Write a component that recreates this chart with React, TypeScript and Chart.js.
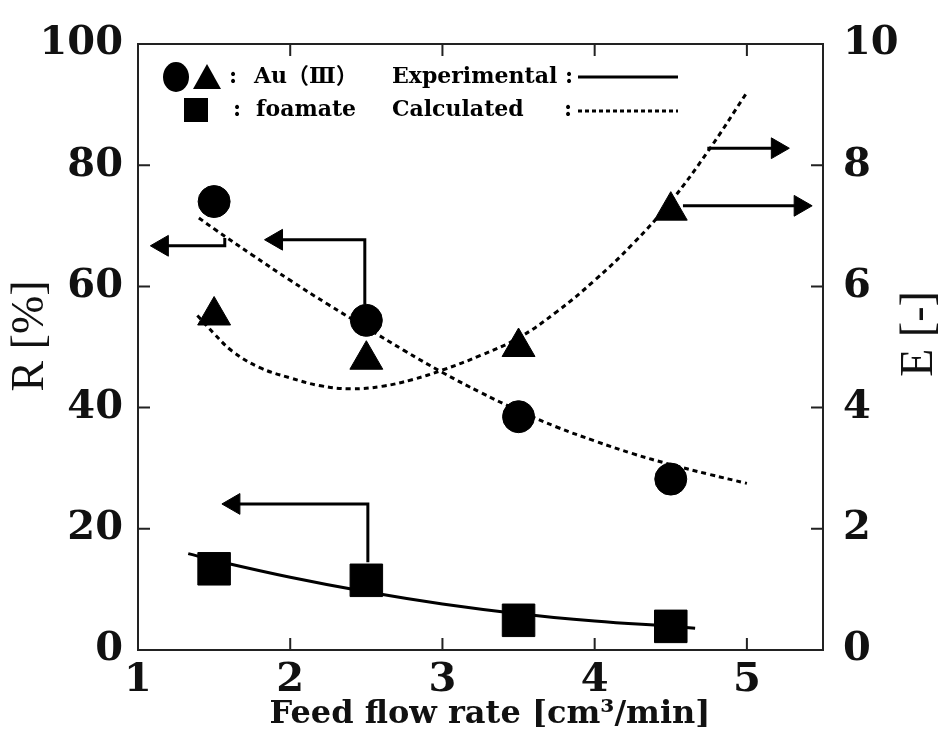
import React, { useEffect, useRef } from "react";
import { Chart, registerables } from "chart.js";

Chart.register(...registerables);

const FONT_FAMILY = '"DejaVu Serif", "Liberation Serif", "Noto Sans CJK JP", serif';
const TITLE_FAMILY = '"Liberation Serif", "DejaVu Serif", serif';

// ---- axes ----
const xTickValues = [1, 2, 3, 4, 5];
const rTickValues = [0, 20, 40, 60, 80, 100];
const eTickValues = [0, 2, 4, 6, 8, 10];

// ---- measured points ----
const feedFlowRates = [1.5, 2.5, 3.5, 4.5];
const auRecovery = [74, 54.4, 38.5, 28.2]; // ● R [%]
const auEnrichment = [5.52, 4.79, 5.0, 7.25]; // ▲ E [-]
const foamateRecovery = [13.4, 11.5, 4.9, 3.9]; // ■ R [%]

// ---- calculated curves (dotted) ----
const calcRecoveryX = [1.4, 1.5, 1.75, 2, 2.25, 2.5, 2.75, 3, 3.25, 3.5, 3.75, 4, 4.25, 4.5, 4.75, 5];
const calcRecovery = [71.3, 69.5, 65.2, 61, 57, 53.2, 49.4, 45.8, 42.5, 39.5, 36.8, 34.5, 32.4, 30.6, 29, 27.5];
const calcEnrichmentX = [1.39, 1.5, 1.62, 1.8, 2, 2.2, 2.4, 2.6, 2.8, 3, 3.25, 3.5, 3.75, 4, 4.25, 4.5, 4.75, 5];
const calcEnrichment = [5.52, 5.22, 4.93, 4.66, 4.49, 4.36, 4.31, 4.35, 4.46, 4.62, 4.86, 5.15, 5.58, 6.1, 6.7, 7.4, 8.25, 9.2];

// ---- experimental curve (solid) ----
const expFoamateX = [1.33, 1.5, 2, 2.5, 3, 3.5, 4, 4.5, 4.66];
const expFoamate = [15.9, 14.8, 12.0, 9.6, 7.6, 6.0, 4.8, 3.9, 3.6];

// ---- annotation arrows (last point = arrow head) ----
const arrowCircle1X = [1.57, 1.57, 1.16];
const arrowCircle1Y = [68, 66.7, 66.7];
const arrowCircle2X = [2.49, 2.49, 1.91];
const arrowCircle2Y = [57, 67.7, 67.7];
const arrowSquareX = [2.51, 2.51, 1.63];
const arrowSquareY = [14.5, 24.1, 24.1];
const arrowTriUpperX = [4.74, 5.2];
const arrowTriUpperY = [8.28, 8.28];
const arrowTriLowerX = [4.58, 5.35];
const arrowTriLowerY = [7.33, 7.33];

const pts = (xs: number[], ys: number[]) => xs.map((x, i) => ({ x, y: ys[i] }));

const arrowDataset = (xs: number[], ys: number[], axis: string, dir: "left" | "right") => ({
  type: "line" as const,
  data: pts(xs, ys),
  yAxisID: axis,
  borderColor: "#000",
  borderWidth: 3,
  fill: false,
  tension: 0,
  pointRadius: xs.map((_, i) => (i === xs.length - 1 ? 12 : 0)),
  pointStyle: "triangle" as const,
  pointRotation: dir === "left" ? -90 : 90,
  pointBackgroundColor: "#000",
  pointBorderColor: "#000",
  pointBorderWidth: 1,
});

const framePlugin = {
  id: "frameAndLabels",
  afterDraw(chart: any) {
    const { ctx, chartArea: a, scales } = chart;
    ctx.save();
    ctx.strokeStyle = "#222";
    ctx.lineWidth = 2;
    ctx.strokeRect(a.left, a.top, a.right - a.left, a.bottom - a.top);

    const tl = 12;
    ctx.beginPath();
    scales.x.ticks.forEach((t: any) => {
      const px = scales.x.getPixelForValue(t.value);
      if (px <= a.left + 1 || px >= a.right - 1) return;
      ctx.moveTo(px, a.bottom);
      ctx.lineTo(px, a.bottom - tl);
      ctx.moveTo(px, a.top);
      ctx.lineTo(px, a.top + tl);
    });
    scales.y.ticks.forEach((t: any) => {
      const py = scales.y.getPixelForValue(t.value);
      if (py <= a.top + 1 || py >= a.bottom - 1) return;
      ctx.moveTo(a.left, py);
      ctx.lineTo(a.left + tl, py);
    });
    scales.y2.ticks.forEach((t: any) => {
      const py = scales.y2.getPixelForValue(t.value);
      if (py <= a.top + 1 || py >= a.bottom - 1) return;
      ctx.moveTo(a.right, py);
      ctx.lineTo(a.right - tl, py);
    });
    ctx.stroke();

    // axis titles
    ctx.fillStyle = "#111";
    ctx.textAlign = "center";
    ctx.textBaseline = "middle";
    ctx.font = `bold 32px ${FONT_FAMILY}`;
    ctx.fillText("Feed flow rate [cm³/min]", 490, 715);

    ctx.font = `46px ${TITLE_FAMILY}`;
    ctx.save();
    ctx.translate(31, 336);
    ctx.rotate(-Math.PI / 2);
    ctx.fillText("R [%]", 0, 0);
    ctx.restore();
    ctx.save();
    ctx.translate(920, 334);
    ctx.rotate(-Math.PI / 2);
    ctx.fillText("E [-]", 0, 0);
    ctx.restore();

    // legend
    ctx.fillStyle = "#000";
    ctx.beginPath();
    ctx.ellipse(176, 77, 13, 15, 0, 0, Math.PI * 2);
    ctx.fill();
    ctx.beginPath();
    ctx.moveTo(207, 64);
    ctx.lineTo(221, 89);
    ctx.lineTo(193, 89);
    ctx.closePath();
    ctx.fill();
    ctx.fillRect(184, 98, 24, 24);

    ctx.font = `bold 22px ${FONT_FAMILY}`;
    ctx.textAlign = "left";
    ctx.fillText(":", 229, 77);
    ctx.fillText("Au（Ⅲ）", 254, 77);
    ctx.fillText("Experimental :", 392, 77);
    ctx.fillText(":", 233, 110);
    ctx.fillText("foamate", 256, 110);
    ctx.fillText("Calculated", 392, 110);
    ctx.fillText(":", 564, 110);

    ctx.lineWidth = 3;
    ctx.strokeStyle = "#000";
    ctx.beginPath();
    ctx.moveTo(578, 77);
    ctx.lineTo(678, 77);
    ctx.stroke();
    ctx.setLineDash([4, 3]);
    ctx.beginPath();
    ctx.moveTo(578, 111);
    ctx.lineTo(678, 111);
    ctx.stroke();
    ctx.setLineDash([]);

    ctx.restore();
  },
};

export default function App() {
  const canvasRef = useRef<HTMLCanvasElement | null>(null);

  useEffect(() => {
    if (!canvasRef.current) return;
    const tickFont = { family: FONT_FAMILY, size: 40, weight: "bold" as const };
    const chart = new Chart(canvasRef.current, {
      type: "line",
      data: {
        datasets: [
          {
            label: "Calculated R",
            data: pts(calcRecoveryX, calcRecovery),
            yAxisID: "y",
            borderColor: "#000",
            borderWidth: 3,
            borderDash: [5, 4],
            pointRadius: 0,
            tension: 0.4,
            fill: false,
          },
          {
            label: "Calculated E",
            data: pts(calcEnrichmentX, calcEnrichment),
            yAxisID: "y2",
            borderColor: "#000",
            borderWidth: 3,
            borderDash: [5, 4],
            pointRadius: 0,
            tension: 0.4,
            fill: false,
          },
          {
            label: "Experimental foamate",
            data: pts(expFoamateX, expFoamate),
            yAxisID: "y",
            borderColor: "#000",
            borderWidth: 3,
            pointRadius: 0,
            tension: 0.4,
            fill: false,
          },
          {
            label: "Au R",
            data: pts(feedFlowRates, auRecovery),
            yAxisID: "y",
            showLine: false,
            pointStyle: "circle",
            pointRadius: 16,
            pointBackgroundColor: "#000",
            pointBorderColor: "#000",
          },
          {
            label: "Au E",
            data: pts(feedFlowRates, auEnrichment),
            yAxisID: "y2",
            showLine: false,
            pointStyle: "triangle",
            pointRadius: 19,
            pointBackgroundColor: "#000",
            pointBorderColor: "#000",
          },
          {
            label: "foamate R",
            data: pts(feedFlowRates, foamateRecovery),
            yAxisID: "y",
            showLine: false,
            pointStyle: "rect",
            pointRadius: 23,
            pointBackgroundColor: "#000",
            pointBorderColor: "#000",
          },
          arrowDataset(arrowCircle1X, arrowCircle1Y, "y", "left"),
          arrowDataset(arrowCircle2X, arrowCircle2Y, "y", "left"),
          arrowDataset(arrowSquareX, arrowSquareY, "y", "left"),
          arrowDataset(arrowTriUpperX, arrowTriUpperY, "y2", "right"),
          arrowDataset(arrowTriLowerX, arrowTriLowerY, "y2", "right"),
        ] as any,
      },
      options: {
        animation: false,
        responsive: false,
        events: [],
        layout: { padding: { top: 40, left: 0, right: 0, bottom: 0 } },
        plugins: { legend: { display: false }, tooltip: { enabled: false }, title: { display: false } },
        scales: {
          x: {
            type: "linear",
            min: 1,
            max: 5.5,
            grid: { display: false, drawTicks: false },
            border: { display: false },
            afterBuildTicks: (s: any) => {
              s.ticks = xTickValues.map((v) => ({ value: v }));
            },
            afterFit: (s: any) => {
              s.height = 85;
            },
            ticks: { font: tickFont, color: "#111", padding: 7, maxRotation: 0, autoSkip: false },
          },
          y: {
            type: "linear",
            position: "left",
            min: 0,
            max: 100,
            grid: { display: false, drawTicks: false },
            border: { display: false },
            afterBuildTicks: (s: any) => {
              s.ticks = rTickValues.map((v) => ({ value: v }));
            },
            afterFit: (s: any) => {
              s.width = 138;
            },
            ticks: { font: tickFont, color: "#111", padding: 15, autoSkip: false },
          },
          y2: {
            type: "linear",
            position: "right",
            min: 0,
            max: 10,
            grid: { display: false, drawTicks: false },
            border: { display: false },
            afterBuildTicks: (s: any) => {
              s.ticks = eTickValues.map((v) => ({ value: v }));
            },
            afterFit: (s: any) => {
              s.width = 123;
            },
            ticks: { font: tickFont, color: "#111", padding: 20, autoSkip: false },
          },
        },
      },
      plugins: [framePlugin],
    } as any);
    return () => chart.destroy();
  }, []);

  return (
    <div style={{ position: "absolute", left: 0, top: 0, width: 946, height: 735, background: "#fff" }}>
      <canvas ref={canvasRef} width={946} height={735} style={{ width: 946, height: 735, display: "block" }} />
    </div>
  );
}
